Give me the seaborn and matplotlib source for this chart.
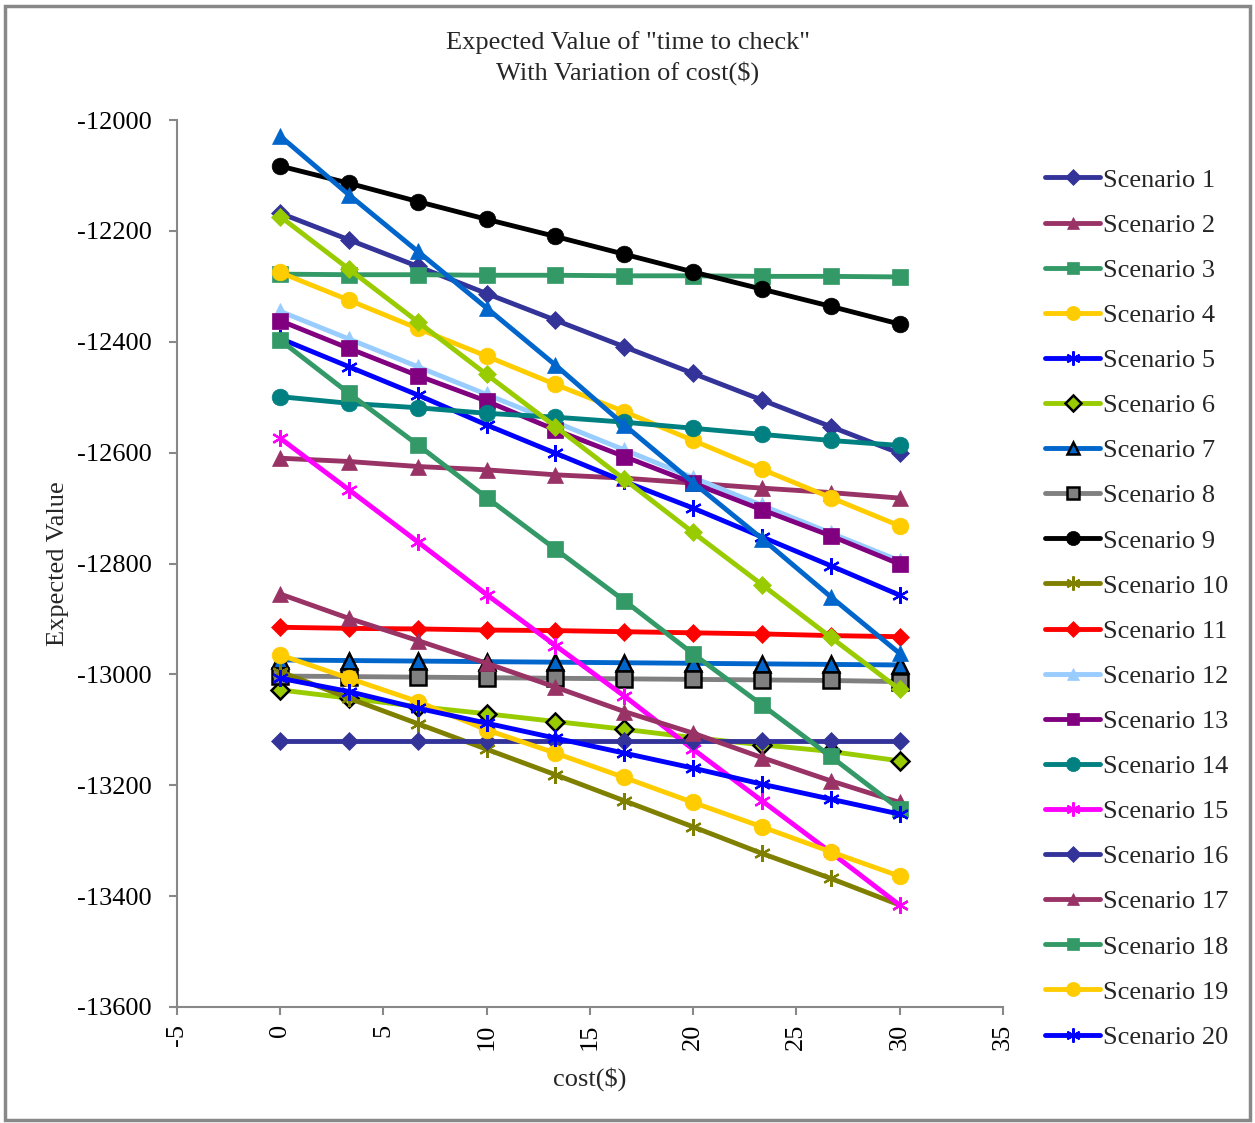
import matplotlib
matplotlib.use("Agg")
import matplotlib.pyplot as plt
from matplotlib.lines import Line2D
from matplotlib.patches import Rectangle
import seaborn as sns
import numpy as np

sns.set_theme(style="white")
plt.rcParams['font.family'] = ['Liberation Serif', 'DejaVu Serif']
plt.rcParams['axes.unicode_minus'] = False

cost = [0, 3.333, 6.667, 10, 13.333, 16.667, 20, 23.333, 26.667, 30]

s1 = [-12168, -12216, -12264, -12313, -12361, -12409, -12457, -12505, -12553, -12601]
s2 = [-12610, -12616, -12625, -12631, -12640, -12646, -12655, -12664, -12672, -12682]
s3 = [-12278, -12279, -12279, -12280, -12280, -12281, -12281, -12282, -12282, -12283]
s4 = [-12275, -12325, -12376, -12426, -12477, -12526, -12578, -12630, -12681, -12732]
s5 = [-12394, -12445, -12496, -12550, -12601, -12652, -12700, -12752, -12804, -12857]
s6 = [-13028, -13043, -13058, -13071, -13085, -13099, -13114, -13127, -13139, -13156]
s7 = [-12974, -12975, -12976, -12977, -12978, -12979, -12980, -12981, -12982, -12983]
s8 = [-13003, -13004, -13005, -13006, -13007, -13008, -13009, -13010, -13011, -13013]
s9 = [-12083, -12114, -12147, -12179, -12210, -12242, -12274, -12305, -12336, -12368]
s10 = [-12995, -13043, -13089, -13135, -13181, -13228, -13275, -13323, -13368, -13416]
s11 = [-12915, -12917, -12918, -12920, -12921, -12923, -12925, -12927, -12930, -12932]
s12 = [-12345, -12395, -12445, -12495, -12545, -12595, -12645, -12695, -12745, -12795]
s13 = [-12362, -12412, -12461, -12507, -12559, -12607, -12655, -12703, -12750, -12801]
s14 = [-12499, -12511, -12519, -12529, -12536, -12545, -12556, -12567, -12578, -12587]
s15 = [-12574, -12667, -12761, -12856, -12948, -13039, -13135, -13228, -13321, -13416]
s16 = [-13120, -13120, -13120, -13120, -13120, -13120, -13120, -13120, -13120, -13120]
s17 = [-12855, -12899, -12939, -12980, -13023, -13067, -13106, -13150, -13192, -13231]
s18 = [-12397, -12493, -12586, -12681, -12774, -12867, -12963, -13055, -13148, -13243]
s19 = [-12965, -13007, -13049, -13100, -13142, -13186, -13231, -13275, -13320, -13364]
s20 = [-13007, -13031, -13061, -13088, -13115, -13142, -13169, -13198, -13225, -13252]
s21 = [-12174, -12269, -12364, -12459, -12553, -12648, -12744, -12838, -12933, -13027]
s22 = [-12029, -12135, -12237, -12339, -12442, -12550, -12654, -12755, -12860, -12962]

names = [f"Scenario {i}" for i in range(1, 23)]
series = [s1, s2, s3, s4, s5, s6, s7, s8, s9, s10, s11, s12, s13, s14, s15,
          s16, s17, s18, s19, s20, s21, s22]

AST = (6, 2, 0)
colors = ["#333399", "#993366", "#339966", "#FFCC00", "#0000FF", "#99CC00",
          "#0066CC", "#808080", "#000000", "#808000", "#FF0000", "#99CCFF",
          "#800080", "#008080", "#FF00FF", "#333399", "#993366", "#339966",
          "#FFCC00", "#0000FF", "#99CC00", "#0066CC"]
markers = ["D", "^", "s", "o", AST, "D", "^", "s", "o", AST,
           "D", "^", "s", "o", AST, "D", "^", "s", "o", AST, "D", "^"]
edges = [None] * 22
edges[5] = "black"
edges[6] = "black"
edges[7] = "black"
msizes = [9, 11, 11, 12, 12, 9, 11, 11, 12, 12,
          9, 11, 11, 12, 12, 9, 11, 11, 12, 12, 9, 11]

fig = plt.figure(figsize=(12.55, 11.23), dpi=100)
ax = fig.add_axes([0.141, 0.1033, 0.658, 0.7898])

handles = []
for i, (nm, vals) in enumerate(zip(names, series)):
    ec = edges[i] if edges[i] else colors[i]
    mew = 1.8 if edges[i] else (1.6 if markers[i] == AST else 0.5)
    sns.lineplot(x=cost, y=vals, ax=ax, color=colors[i], lw=3.5,
                 marker=markers[i], markersize=msizes[i],
                 markerfacecolor=colors[i], markeredgecolor=ec,
                 markeredgewidth=mew, legend=False, zorder=2 + i * 0.01)
    if i < 20:
        handles.append(Line2D([], [], color=colors[i], lw=3.5, marker=markers[i],
                              markersize=msizes[i] * 0.85, markerfacecolor=colors[i],
                              markeredgecolor=ec, markeredgewidth=mew, label=nm))

ax.set_xlim(-5, 35)
ax.set_ylim(-13600, -12000)
ax.set_xticks(np.arange(-5, 36, 5))
ax.set_yticks(np.arange(-13600, -11999, 200))
for sp in ["top", "right"]:
    ax.spines[sp].set_visible(False)
for sp in ["left", "bottom"]:
    ax.spines[sp].set_color("#888888")
    ax.spines[sp].set_linewidth(1.5)
ax.tick_params(axis="both", which="major", direction="out", length=6, width=1.5,
               color="#888888", labelsize=19, labelcolor="black", left=True, bottom=True)
ax.tick_params(axis="y", pad=12)
ax.tick_params(axis="x", pad=6)
plt.setp(ax.get_xticklabels(), rotation=90, va="top", ha="center")

ax.set_xlabel("cost($)", fontsize=19, labelpad=12)
ax.set_ylabel("Expected Value", fontsize=19, labelpad=6)
fig.text(0.5, 0.962, 'Expected Value of "time to check"', ha="center", va="center", fontsize=19)
fig.text(0.5, 0.935, 'With Variation of cost($)', ha="center", va="center", fontsize=19)

leg = fig.legend(handles=handles, loc="upper left", bbox_to_anchor=(0.822, 0.862),
                 frameon=False, fontsize=19, handlelength=2.1, handletextpad=0.1,
                 labelspacing=0.82, borderpad=0)

fig.add_artist(Rectangle((0.004, 0.003), 0.992, 0.992, transform=fig.transFigure,
                         fill=False, edgecolor="#888888", lw=2.5))

fig.savefig("out.png", dpi=100)
